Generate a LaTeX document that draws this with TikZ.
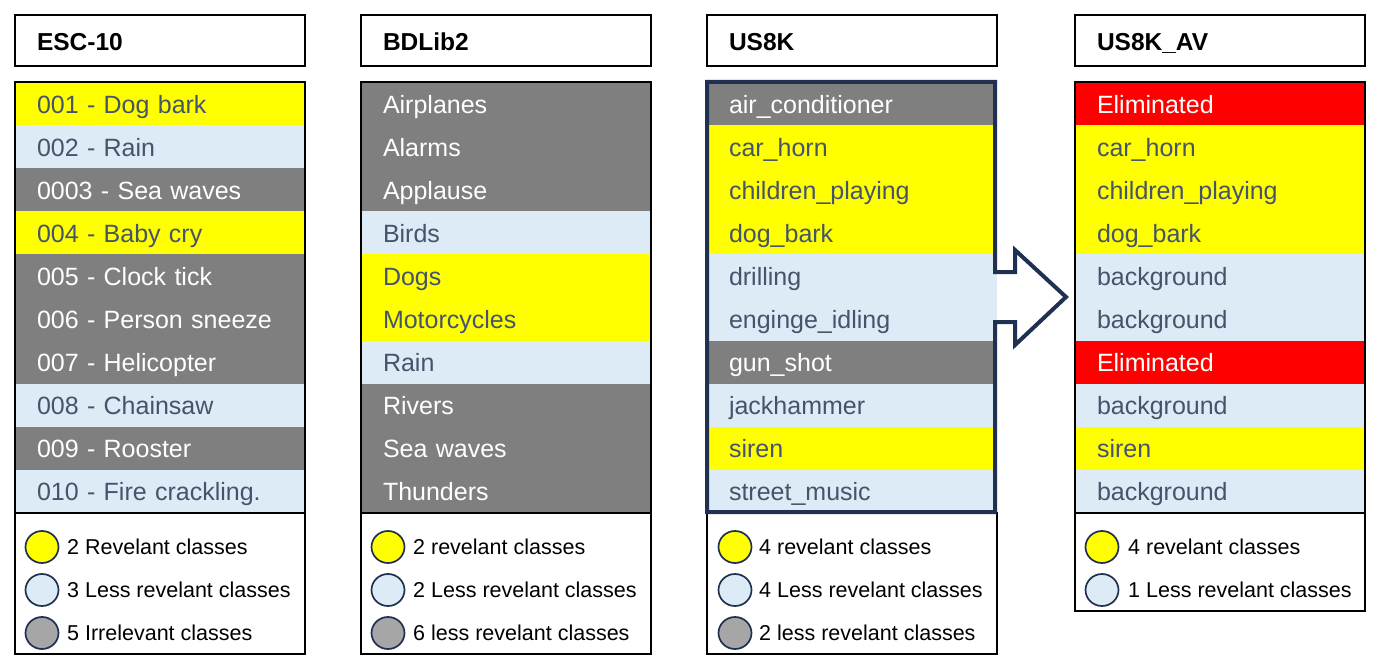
\documentclass[tikz,border=0pt]{standalone}
\usepackage{fontspec}
\setmainfont{Liberation Sans}
\usetikzlibrary{shapes.geometric}
\definecolor{cyel}{HTML}{FFFF00}
\definecolor{cblue}{HTML}{DDEBF7}
\definecolor{cgray}{HTML}{7F7F7F}
\definecolor{cred}{HTML}{FF0000}
\definecolor{clgray}{HTML}{A6A6A6}
\definecolor{tdark}{HTML}{44546A}
\definecolor{navy}{HTML}{1F3050}
\begin{document}
\begin{tikzpicture}[x=1pt,y=-1pt,
  rowbox/.style={anchor=north west, inner xsep=22pt, inner ysep=0pt, text width=246pt,
    minimum height=43.1pt, outer sep=0pt, align=left, text height=20pt, text depth=1pt,
    font=\fontsize{25}{30}\selectfont},
  rowY/.style={fill=cyel, text=tdark},
  rowB/.style={fill=cblue, text=tdark},
  rowG/.style={fill=cgray, text=white},
  rowR/.style={fill=cred, text=white},
  headbox/.style={anchor=north west, draw=black, line width=1.2pt, inner xsep=22pt, inner ysep=0pt,
    text width=246pt, minimum height=51pt, outer sep=0pt, align=left, text height=21pt, text depth=0pt,
    font=\fontsize{24.5}{30}\selectfont\bfseries},
  tablebox/.style={anchor=north west, draw=black, line width=1.2pt, minimum width=290pt,
    minimum height=431pt, inner sep=0pt, outer sep=0pt},
  legbox/.style={anchor=north west, draw=black, line width=1.2pt, minimum width=290pt,
    inner sep=0pt, outer sep=0pt},
  legdot/.style={ellipse, draw=navy, line width=1.7pt, minimum width=33pt, minimum height=32pt, inner sep=0pt},
  legtext/.style={anchor=west, inner sep=0pt, text height=15pt, text depth=0pt, text=black,
    font=\fontsize{21.5}{26}\selectfont}
]
\useasboundingbox (0,0) rectangle (1380,668);

% ---------- ESC-10 ----------
\node[headbox] (esc-head) at (15,15) {ESC-10};
\foreach [count=\i from 0] \c/\s in {rowY/001 - Dog bark, rowB/002 - Rain, rowG/0003 - Sea waves,
  rowY/004 - Baby cry, rowG/005 - Clock tick, rowG/006 - Person sneeze, rowG/007 - Helicopter,
  rowB/008 - Chainsaw, rowG/009 - Rooster, rowB/010 - Fire crackling.}
  \node[rowbox,\c] (esc-\i) at (15,{82+43.1*\i}) {\s};
\node[tablebox] (esc-table) at (15,82) {};
\node[legbox, minimum height=141pt] (esc-leg) at (15,513) {};
\node[legdot, fill=cyel] (esc-d1) at (42,547) {};
\node[legtext] (esc-l1) at (67,547) {2 Revelant classes};
\node[legdot, fill=cblue] (esc-d2) at (42,590) {};
\node[legtext] (esc-l2) at (67,590) {3 Less revelant classes};
\node[legdot, fill=clgray] (esc-d3) at (42,633) {};
\node[legtext] (esc-l3) at (67,633) {5 Irrelevant classes};

% ---------- BDLib2 ----------
\node[headbox] (bd-head) at (361,15) {BDLib2};
\foreach [count=\i from 0] \c/\s in {rowG/Airplanes, rowG/Alarms, rowG/Applause, rowB/Birds,
  rowY/Dogs, rowY/Motorcycles, rowB/Rain, rowG/Rivers, rowG/Sea waves, rowG/Thunders}
  \node[rowbox,\c] (bd-\i) at (361,{82+43.1*\i}) {\s};
\node[tablebox] (bd-table) at (361,82) {};
\node[legbox, minimum height=141pt] (bd-leg) at (361,513) {};
\node[legdot, fill=cyel] (bd-d1) at (388,547) {};
\node[legtext] (bd-l1) at (413,547) {2 revelant classes};
\node[legdot, fill=cblue] (bd-d2) at (388,590) {};
\node[legtext] (bd-l2) at (413,590) {2 Less revelant classes};
\node[legdot, fill=clgray] (bd-d3) at (388,633) {};
\node[legtext] (bd-l3) at (413,633) {6 less revelant classes};

% ---------- US8K ----------
\node[headbox] (us-head) at (707,15) {US8K};
\foreach [count=\i from 0] \c/\s in {rowG/air\_conditioner, rowY/car\_horn, rowY/children\_playing,
  rowY/dog\_bark, rowB/drilling, rowB/enginge\_idling, rowG/gun\_shot, rowB/jackhammer,
  rowY/siren, rowB/street\_music}
  \node[rowbox,\c] (us-\i) at (707,{82+43.1*\i}) {\s};
\node[legbox, minimum height=141pt] (us-leg) at (707,513) {};
\draw[navy, line width=4pt, line join=miter]
  (707,82) -- (995,82) -- (995,272) -- (1015,272) -- (1015,250) -- (1066,297)
  -- (1015,345) -- (1015,322) -- (995,322) -- (995,512) -- (707,512) -- cycle;
\node[legdot, fill=cyel] (us-d1) at (735,547) {};
\node[legtext] (us-l1) at (759,547) {4 revelant classes};
\node[legdot, fill=cblue] (us-d2) at (735,590) {};
\node[legtext] (us-l2) at (759,590) {4 Less revelant classes};
\node[legdot, fill=clgray] (us-d3) at (735,633) {};
\node[legtext] (us-l3) at (759,633) {2 less revelant classes};

% ---------- US8K_AV ----------
\node[headbox] (av-head) at (1075,15) {US8K\_AV};
\foreach [count=\i from 0] \c/\s in {rowR/Eliminated, rowY/car\_horn, rowY/children\_playing,
  rowY/dog\_bark, rowB/background, rowB/background, rowR/Eliminated, rowB/background,
  rowY/siren, rowB/background}
  \node[rowbox,\c] (av-\i) at (1075,{82+43.1*\i}) {\s};
\node[tablebox] (av-table) at (1075,82) {};
\node[legbox, minimum height=98pt] (av-leg) at (1075,513) {};
\node[legdot, fill=cyel] (av-d1) at (1102,547) {};
\node[legtext] (av-l1) at (1128,547) {4 revelant classes};
\node[legdot, fill=cblue] (av-d2) at (1102,590) {};
\node[legtext] (av-l2) at (1128,590) {1 Less revelant classes};
\end{tikzpicture}
\end{document}
